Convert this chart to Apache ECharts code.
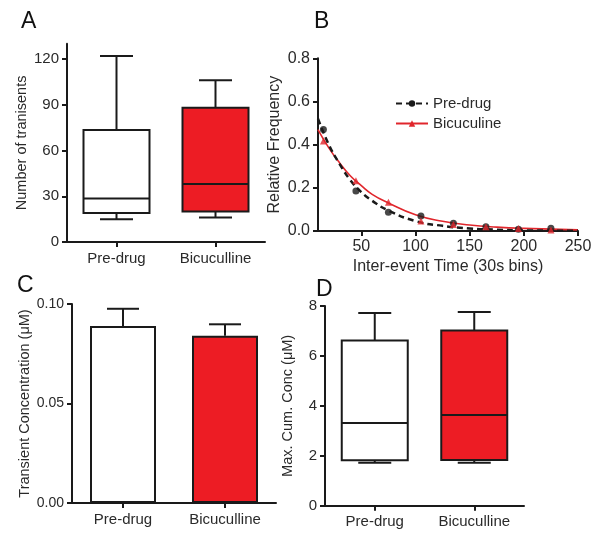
<!DOCTYPE html>
<html>
<head>
<meta charset="utf-8">
<script src="https://cdn.jsdelivr.net/npm/echarts@6/dist/echarts.min.js"></script>
<style>
  html, body { margin: 0; padding: 0; background: #fff; }
  #chart { width: 604px; height: 539px; }
</style>
</head>
<body>
<div id="chart"></div>
<script>
// data
const groups = ['Pre-drug', 'Bicuculline'];
const groupColors = ['#ffffff', '#ed1c24'];

// A: number of transients  [min, q1, median, q3, max]
const transientsBox = [[15, 19, 28.5, 73.5, 122], [16, 20, 38, 88, 106]];
const transientsTicks = [0, 30, 60, 90, 120];

// B: inter-event time histogram (30s bins) + fitted decay curves
const binX = [15, 45, 75, 105, 135, 165, 195, 225];
const preDrugFreq = [0.47, 0.185, 0.087, 0.07, 0.036, 0.02, 0.008, 0.013];
const bicFreq = [0.417, 0.233, 0.133, 0.046, 0.03, 0.02, 0.012, 0.005];
const fitX = [10, 20, 30, 40, 50, 60, 75, 100, 125, 150, 175, 200, 250];
const preDrugFit = [0.52, 0.40, 0.31, 0.235, 0.18, 0.14, 0.095, 0.046, 0.024, 0.012, 0.006, 0.003, 0.001];
const bicFit = [0.47, 0.385, 0.315, 0.255, 0.21, 0.17, 0.13, 0.075, 0.045, 0.028, 0.018, 0.012, 0.005];
const timeTicks = [50, 100, 150, 200, 250];

// C: transient concentration, mean + sem
const concMean = [0.0889, 0.0841];
const concSem = [0.0087, 0.0057];

// D: max cumulative concentration [min, q1, median, q3, max]
const maxConcBox = [[1.72, 1.82, 3.31, 6.62, 7.72], [1.72, 1.83, 3.63, 7.02, 7.76]];

const FONT = 'Liberation Sans, Arial, Helvetica, sans-serif';
const INK = '#1a1a1a';
const TXT = '#2a2a2a';

function pairs(xs, ys) { return xs.map((x, i) => [x, ys[i]]); }

function boxRender(params, api) {
  const x = api.value(0);
  const pMin = api.coord([x, api.value(1)]);
  const pQ1 = api.coord([x, api.value(2)]);
  const pMed = api.coord([x, api.value(3)]);
  const pQ3 = api.coord([x, api.value(4)]);
  const pMax = api.coord([x, api.value(5)]);
  const hw = 33, cw = 16.5, cx = pMed[0];
  const ls = { stroke: INK, lineWidth: 2 };
  return {
    type: 'group',
    children: [
      { type: 'line', shape: { x1: cx, y1: pQ3[1], x2: cx, y2: pMax[1] }, style: ls },
      { type: 'line', shape: { x1: cx - cw, y1: pMax[1], x2: cx + cw, y2: pMax[1] }, style: ls },
      { type: 'line', shape: { x1: cx, y1: pQ1[1], x2: cx, y2: pMin[1] }, style: ls },
      { type: 'line', shape: { x1: cx - cw, y1: pMin[1], x2: cx + cw, y2: pMin[1] }, style: ls },
      { type: 'rect', shape: { x: cx - hw, y: pQ3[1], width: hw * 2, height: pQ1[1] - pQ3[1] },
        style: { fill: groupColors[params.dataIndex], stroke: INK, lineWidth: 2 } },
      { type: 'line', shape: { x1: cx - hw, y1: pMed[1], x2: cx + hw, y2: pMed[1] }, style: ls }
    ]
  };
}

function errRender(params, api) {
  const x = api.value(0);
  const pTop = api.coord([x, api.value(1)]);
  const pUp = api.coord([x, api.value(2)]);
  const cx = pTop[0], cw = 16;
  const ls = { stroke: INK, lineWidth: 2 };
  return {
    type: 'group',
    children: [
      { type: 'line', shape: { x1: cx, y1: pTop[1], x2: cx, y2: pUp[1] }, style: ls },
      { type: 'line', shape: { x1: cx - cw, y1: pUp[1], x2: cx + cw, y2: pUp[1] }, style: ls }
    ]
  };
}

const axisLine = { show: true, lineStyle: { color: INK, width: 2 } };
const axisTick = { show: true, length: 5, lineStyle: { color: INK, width: 2 } };

function catAxis(idx) {
  return {
    type: 'category', gridIndex: idx, data: groups,
    axisLine: axisLine,
    axisTick: Object.assign({ alignWithLabel: true }, axisTick),
    axisLabel: { color: TXT, fontSize: 15, fontFamily: FONT, margin: 9 },
    splitLine: { show: false }
  };
}

const chart = echarts.init(document.getElementById('chart'));

const option = {
  backgroundColor: '#fff',
  animation: false,
  title: [
    { text: 'A', left: 16, top: 5 },
    { text: 'B', left: 309, top: 5 },
    { text: 'C', left: 12, top: 269 },
    { text: 'D', left: 311, top: 273 }
  ].map(t => Object.assign(t, { textStyle: { fontSize: 23, fontWeight: 'normal', color: '#111', fontFamily: FONT } })),
  legend: {
    left: 390, top: 91, orient: 'vertical', itemGap: 5, itemWidth: 32, itemHeight: 8,
    data: ['Pre-drug', 'Bicuculine'],
    textStyle: { fontSize: 15, color: TXT, fontFamily: FONT }
  },
  grid: [
    { left: 67, right: 339, top: 43.75, bottom: 297 },
    { left: 318, right: 26, top: 58.3, bottom: 308 },
    { left: 72, right: 328, top: 304, bottom: 36 },
    { left: 325, right: 80, top: 306, bottom: 33.3 }
  ],
  xAxis: [
    catAxis(0),
    {
      type: 'value', gridIndex: 1, min: 10, max: 250,
      name: 'Inter-event Time (30s bins)', nameLocation: 'middle', nameGap: 28,
      nameTextStyle: { fontSize: 16, color: TXT, fontFamily: FONT },
      axisLine: axisLine,
      axisTick: Object.assign({ customValues: timeTicks }, axisTick),
      axisLabel: { customValues: timeTicks, color: TXT, fontSize: 16, fontFamily: FONT, margin: 8 },
      splitLine: { show: false }
    },
    catAxis(2),
    catAxis(3)
  ],
  yAxis: [
    {
      type: 'value', gridIndex: 0, min: 0, max: 130,
      name: 'Number of tranisents', nameLocation: 'middle', nameGap: 38,
      nameTextStyle: { fontSize: 14.5, color: TXT, fontFamily: FONT },
      axisLine: axisLine,
      axisTick: Object.assign({ customValues: transientsTicks }, axisTick),
      axisLabel: { customValues: transientsTicks, color: TXT, fontSize: 15, fontFamily: FONT, margin: 8 },
      splitLine: { show: false }
    },
    {
      type: 'value', gridIndex: 1, min: 0, max: 0.8, interval: 0.2,
      name: 'Relative Frequency', nameLocation: 'middle', nameGap: 35,
      nameTextStyle: { fontSize: 16, color: TXT, fontFamily: FONT },
      axisLine: axisLine, axisTick: axisTick,
      axisLabel: { color: TXT, fontSize: 16, fontFamily: FONT, margin: 8, formatter: v => v.toFixed(1) },
      splitLine: { show: false }
    },
    {
      type: 'value', gridIndex: 2, min: 0, max: 0.1, interval: 0.05,
      name: 'Transient Concentration (\u03bcM)', nameLocation: 'middle', nameGap: 40,
      nameTextStyle: { fontSize: 14.5, color: TXT, fontFamily: FONT },
      axisLine: axisLine, axisTick: axisTick,
      axisLabel: { color: TXT, fontSize: 14, fontFamily: FONT, margin: 8, formatter: v => v.toFixed(2) },
      splitLine: { show: false }
    },
    {
      type: 'value', gridIndex: 3, min: 0, max: 8, interval: 2,
      name: 'Max. Cum. Conc (\u03bcM)', nameLocation: 'middle', nameGap: 30,
      nameTextStyle: { fontSize: 14.5, color: TXT, fontFamily: FONT },
      axisLine: axisLine, axisTick: axisTick,
      axisLabel: { color: TXT, fontSize: 15, fontFamily: FONT, margin: 8 },
      splitLine: { show: false }
    }
  ],
  series: [
    {
      type: 'custom', xAxisIndex: 0, yAxisIndex: 0, renderItem: boxRender,
      data: transientsBox.map((b, i) => [i].concat(b))
    },
    {
      name: 'Pre-drug', type: 'line', xAxisIndex: 1, yAxisIndex: 1, smooth: true,
      symbol: 'circle', symbolSize: 6, showSymbol: false,
      itemStyle: { color: INK },
      lineStyle: { color: INK, width: 2.5, type: [6, 4] },
      data: pairs(fitX, preDrugFit), z: 3
    },
    {
      name: 'Bicuculine', type: 'line', xAxisIndex: 1, yAxisIndex: 1, smooth: true,
      symbol: 'triangle', symbolSize: 6, showSymbol: false,
      itemStyle: { color: '#e0262c' },
      lineStyle: { color: '#e0262c', width: 1.6 },
      data: pairs(fitX, bicFit), z: 2
    },
    {
      type: 'scatter', xAxisIndex: 1, yAxisIndex: 1, symbol: 'circle', symbolSize: 7,
      itemStyle: { color: INK }, data: pairs(binX, preDrugFreq), z: 4
    },
    {
      type: 'scatter', xAxisIndex: 1, yAxisIndex: 1, symbol: 'triangle', symbolSize: 7,
      itemStyle: { color: '#e0262c' }, data: pairs(binX, bicFreq), z: 4
    },
    {
      type: 'bar', xAxisIndex: 2, yAxisIndex: 2, barWidth: 66,
      data: concMean.map((v, i) => ({ value: v, itemStyle: { color: groupColors[i], borderColor: INK, borderWidth: 2 } })),
      z: 2
    },
    {
      type: 'custom', xAxisIndex: 2, yAxisIndex: 2, renderItem: errRender, z: 3,
      data: concMean.map((v, i) => [i, v, v + concSem[i]])
    },
    {
      type: 'custom', xAxisIndex: 3, yAxisIndex: 3, renderItem: boxRender,
      data: maxConcBox.map((b, i) => [i].concat(b))
    }
  ]
};

chart.setOption(option);
</script>
</body>
</html>
